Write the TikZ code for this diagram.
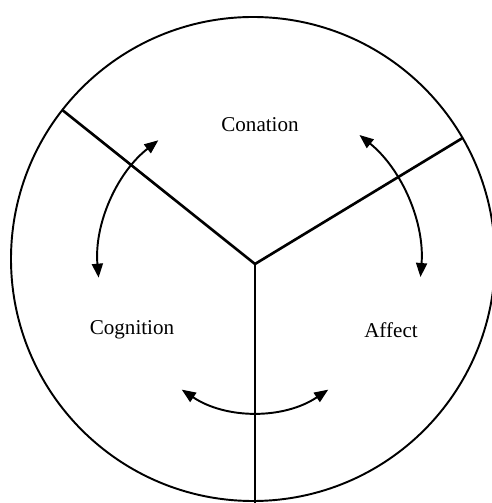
\documentclass[tikz,border=0pt]{standalone}
\usepackage{fontspec}
\setmainfont{Liberation Serif}
\usepackage{tikz}
\usetikzlibrary{arrows.meta,calc}

\begin{document}
\begin{tikzpicture}[
    x=0.02cm, y=0.02cm,
    rim/.style={line width=1.1pt},
    spoke/.style={line width=1.5pt},
    dbl/.style={{Triangle[length=2.8mm,width=2.2mm]}-{Triangle[length=2.8mm,width=2.2mm]}, line width=1.1pt},
    lbl/.style={font=\fontsize{12}{14}\selectfont},
]
\useasboundingbox (0,0) rectangle (492,503);

% circle and spokes
\coordinate (c) at (253,244);
\coordinate (hub) at (255,239);
\draw[rim] (c) circle[radius=242];
\coordinate (lend) at ($(c)+(142:242)$);
\coordinate (rend) at ($(c)+(30:242)$);
\coordinate (bend) at (255,0);
\draw[spoke] (hub) -- (lend);
\draw[spoke] (hub) -- (rend);
\draw[spoke] (hub) -- (bend);

% labels
\node[lbl] (conation) at (260,378) {Conation};
\node[lbl] (cognition) at (132,173) {Cognition};
\node[lbl] (affect) at (391,173) {Affect};

% arrows
\coordinate (lt) at ($(hub)+(128:157)$);
\coordinate (rt) at ($(hub)+(51:166)$);
\coordinate (bc) at (255,222);
\coordinate (bl) at ($(bc)+(236:131)$);
\draw[dbl] (lt) arc[start angle=128, end angle=185, radius=157];
\draw[dbl] (rt) arc[start angle=51, end angle=-4.5, radius=166];
\draw[dbl] (bl) arc[start angle=236, end angle=304, radius=131];

\end{tikzpicture}
\end{document}
